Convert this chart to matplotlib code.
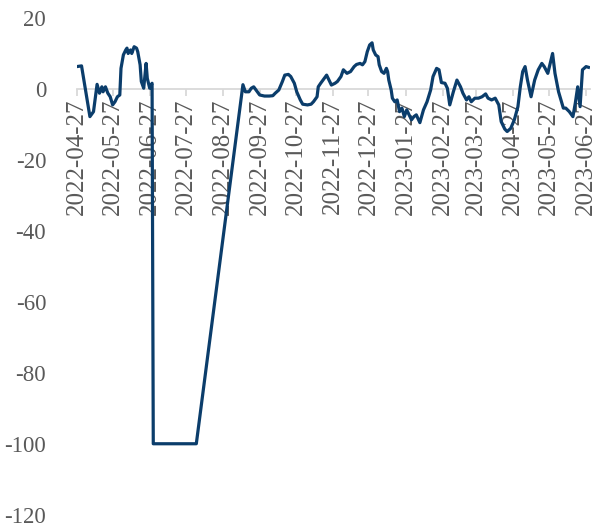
import matplotlib
matplotlib.use("Agg")
import matplotlib.pyplot as plt
import matplotlib.dates as mdates
import pandas as pd

# values
dates = [
    "2022-04-27", "2022-05-01", "2022-05-08", "2022-05-11", "2022-05-14", "2022-05-16",
    "2022-05-18", "2022-05-19", "2022-05-21", "2022-05-23", "2022-05-25", "2022-05-27",
    "2022-05-29", "2022-05-31", "2022-06-02", "2022-06-03", "2022-06-05", "2022-06-07",
    "2022-06-08", "2022-06-09", "2022-06-11", "2022-06-12", "2022-06-14", "2022-06-16",
    "2022-06-17", "2022-06-19", "2022-06-20", "2022-06-22", "2022-06-24", "2022-06-25",
    "2022-06-27", "2022-06-28", "2022-06-29", "2022-06-30", "2022-08-05", "2022-09-13",
    "2022-09-15", "2022-09-18", "2022-09-20", "2022-09-22", "2022-09-25", "2022-09-27",
    "2022-10-01", "2022-10-05", "2022-10-08", "2022-10-10", "2022-10-13", "2022-10-16",
    "2022-10-18", "2022-10-21", "2022-10-23", "2022-10-26", "2022-10-28", "2022-10-31",
    "2022-11-02", "2022-11-06", "2022-11-09", "2022-11-11", "2022-11-14", "2022-11-15",
    "2022-11-17", "2022-11-19", "2022-11-22", "2022-11-24", "2022-11-26", "2022-11-29",
    "2022-12-01", "2022-12-04", "2022-12-06", "2022-12-09", "2022-12-12", "2022-12-15",
    "2022-12-17", "2022-12-20", "2022-12-22", "2022-12-24", "2022-12-26", "2022-12-28",
    "2022-12-30", "2022-12-31", "2023-01-02", "2023-01-04", "2023-01-05", "2023-01-07",
    "2023-01-09", "2023-01-11", "2023-01-12", "2023-01-13", "2023-01-15", "2023-01-16",
    "2023-01-18", "2023-01-20", "2023-01-22", "2023-01-24", "2023-01-26", "2023-01-28",
    "2023-01-30", "2023-02-01", "2023-02-03", "2023-02-05", "2023-02-08", "2023-02-11",
    "2023-02-14", "2023-02-17", "2023-02-19", "2023-02-22", "2023-02-24", "2023-02-26",
    "2023-03-01", "2023-03-03", "2023-03-05", "2023-03-08", "2023-03-11", "2023-03-14",
    "2023-03-16", "2023-03-19", "2023-03-21", "2023-03-23", "2023-03-26", "2023-03-29",
    "2023-04-01", "2023-04-04", "2023-04-06", "2023-04-09", "2023-04-12", "2023-04-15",
    "2023-04-17", "2023-04-20", "2023-04-22", "2023-04-25", "2023-04-28", "2023-05-01",
    "2023-05-03", "2023-05-05", "2023-05-07", "2023-05-09", "2023-05-12", "2023-05-15",
    "2023-05-18", "2023-05-21", "2023-05-23", "2023-05-26", "2023-05-28", "2023-05-30",
    "2023-06-01", "2023-06-04", "2023-06-06", "2023-06-08", "2023-06-10", "2023-06-13",
    "2023-06-16", "2023-06-18", "2023-06-20", "2023-06-21", "2023-06-22", "2023-06-24",
    "2023-06-27", "2023-06-29",
]
values = [
    6.3, 6.5, -7.8, -6.4, 1.3, -1.2,
    0.6, -0.8, 0.6, -1.2, -2.2, -4.5,
    -3.6, -2.2, -1.7, 5.8, 9.6, 11.0,
    11.5, 10.0, 11.0, 10.0, 11.9, 11.5,
    10.5, 6.8, 2.1, 0.2, 7.2, 3.0,
    0.2, 1.1, 1.6, -100.0, -100.0, 1.2,
    -0.8, -0.8, 0.2, 0.6, -0.8, -1.7,
    -2.0, -2.0, -1.9, -1.2, -0.3, 2.1,
    3.9, 4.1, 3.5, 1.6, -0.8, -3.1,
    -4.3, -4.5, -4.3, -3.6, -2.2, 0.6,
    1.6, 2.5, 3.9, 2.5, 1.1, 1.6,
    2.1, 3.5, 5.4, 4.4, 4.9, 6.3,
    6.9, 7.2, 6.8, 7.7, 10.5, 12.4,
    13.0, 11.0, 9.6, 9.1, 6.8, 4.9,
    4.4, 5.8, 4.9, 2.5, -0.3, -2.6,
    -3.6, -3.1, -6.4, -5.4, -7.8, -5.9,
    -7.3, -8.7, -7.8, -7.3, -9.5, -5.9,
    -3.6, -0.3, 3.5, 5.8, 5.4, 1.8,
    1.6, 0.2, -4.5, -0.8, 2.5, 0.6,
    -1.2, -3.1, -2.2, -3.6, -2.6, -2.6,
    -2.2, -1.4, -2.6, -3.1, -2.6, -4.5,
    -9.2, -11.3, -12.0, -11.1, -8.7, -5.0,
    0.6, 4.9, 6.3, 2.5, -2.2, 2.5,
    5.4, 7.2, 6.3, 4.4, 7.2, 10.0,
    4.4, -0.8, -3.1, -5.4, -5.4, -6.4,
    -7.8, -4.0, 0.6, -2.2, -5.0, 5.4,
    6.3, 6.1,
]
tick_dates = pd.date_range("2022-04-01", "2023-06-01", freq="MS") + pd.Timedelta(days=26)
y_ticks = [-120, -100, -80, -60, -40, -20, 0, 20]

plt.rcParams["font.family"] = ["Liberation Serif", "DejaVu Serif"]
plt.rcParams["axes.unicode_minus"] = False

fig = plt.figure(figsize=(5.95, 5.29), dpi=100)
ax = fig.add_axes([0.129, 0.027, 0.862, 0.939])

ax.plot(pd.to_datetime(dates), values, color="#0b3d6b", linewidth=2.3,
        solid_joinstyle="round", zorder=3)

ax.set_xlim(pd.Timestamp("2022-04-27"), pd.Timestamp("2023-06-30"))
ax.set_ylim(-120, 20)
ax.set_yticks(y_ticks)
ax.set_xticks(tick_dates)
ax.xaxis.set_major_formatter(mdates.DateFormatter("%Y-%m-%d"))

for side in ["top", "right", "left"]:
    ax.spines[side].set_visible(False)
ax.spines["bottom"].set_position(("data", 0))
ax.spines["bottom"].set_color("#d9d9d9")
ax.spines["bottom"].set_linewidth(1.3)

ax.tick_params(axis="x", direction="out", length=5, width=1.3, color="#d9d9d9",
               labelsize=18, labelcolor="#595959", pad=2, labelrotation=90)
ax.tick_params(axis="y", length=0, labelsize=16.5, labelcolor="#595959", pad=22)
for lbl in ax.get_xticklabels():
    lbl.set_verticalalignment("top")

fig.savefig("out.png", dpi=100)
